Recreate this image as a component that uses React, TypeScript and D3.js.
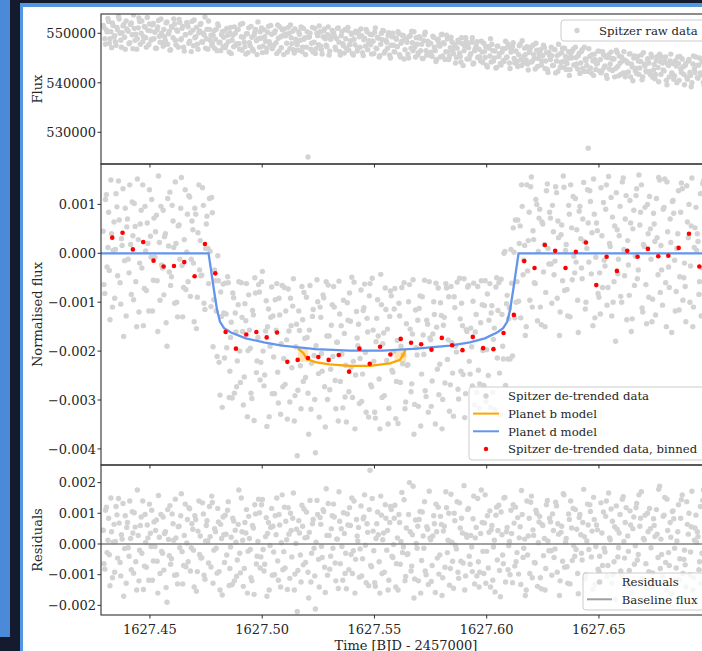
import React from 'react';
import * as d3 from 'd3';

// Times are stored as offsets in units of 1e-4 day after BJD-2457000 = 1627.4
const T0 = 1627.4;
const timeOffsets = [
  292,299,306,313,319,326,333,340, 346,353,360,367,373,380,387,394,
  400,407,414,421,427,434,441,448, 454,461,468,475,481,488,495,502,
  508,515,522,529,535,542,549,556, 562,569,576,583,589,596,603,610,
  616,623,630,637,643,650,657,664, 670,677,684,691,697,704,711,718,
  724,731,738,745,751,758,765,772, 778,785,792,799,805,812,819,826,
  832,839,846,853,859,866,873,880, 886,893,900,907,913,920,927,934,
  940,947,954,961,967,974,981,988, 994,1001,1008,1015,1021,1028,1035,1042,
  1048,1055,1062,1069,1075,1082,1089,1096, 1102,1109,1116,1123,1129,1136,1143,1150,
  1156,1163,1170,1177,1183,1190,1197,1204, 1210,1217,1224,1231,1237,1244,1251,1258,
  1264,1271,1278,1285,1291,1298,1305,1312, 1318,1325,1332,1339,1345,1352,1359,1366,
  1372,1379,1386,1393,1399,1406,1413,1420, 1426,1433,1440,1447,1453,1460,1467,1474,
  1480,1487,1494,1501,1507,1514,1521,1528, 1534,1541,1548,1555,1561,1568,1575,1582,
  1588,1595,1602,1609,1615,1622,1629,1636, 1642,1649,1656,1663,1669,1676,1683,1690,
  1696,1703,1710,1717,1723,1730,1737,1744, 1750,1757,1764,1771,1777,1784,1791,1798,
  1804,1811,1818,1825,1831,1838,1845,1852, 1858,1865,1872,1879,1885,1892,1899,1906,
  1912,1919,1926,1933,1939,1946,1953,1960, 1966,1973,1980,1987,1993,2000,2007,2014,
  2020,2027,2034,2041,2047,2054,2061,2068, 2074,2081,2088,2095,2101,2108,2115,2122,
  2128,2135,2142,2149,2155,2162,2169,2176, 2182,2189,2196,2203,2209,2216,2223,2230,
  2236,2243,2250,2257,2263,2270,2277,2284, 2290,2297,2304,2311,2317,2324,2331,2338,
  2344,2351,2358,2365,2371,2378,2385,2392, 2398,2405,2412,2419,2425,2432,2439,2446,
  2452,2459,2466,2473,2479,2486,2493,2500, 2506,2513,2520,2527,2533,2540,2547,2554,
  2560,2567,2574,2581,2587,2594,2601,2608, 2614,2621,2628,2635,2641,2648,2655,2662,
  2668,2675,2682,2689,2695,2702,2709,2716, 2722,2729,2736,2743,2749,2756,2763,2770,
  2776,2783,2790,2797,2803,2810,2817,2824, 2830,2837,2844,2851,2857,2864,2871,2878,
  2884,2891,2898,2905,2911,2918,2925,2932, 2938,2945,2952,2959,2965,2972,2979,2986
];
// Second (interleaved) half of the cadence
const timeOffsetsB = [
  295,302,309,316,322,329,336,343, 349,356,363,370,376,383,390,397,
  403,410,417,424,430,437,444,451, 457,464,471,478,484,491,498,505,
  511,518,525,532,538,545,552,559, 565,572,579,586,592,599,606,613,
  619,626,633,640,646,653,660,667, 673,680,687,694,700,707,714,721,
  727,734,741,748,754,761,768,775, 781,788,795,802,808,815,822,829,
  835,842,849,856,862,869,876,883, 889,896,903,910,916,923,930,937,
  943,950,957,964,970,977,984,991, 997,1004,1011,1018,1024,1031,1038,1045,
  1051,1058,1065,1072,1078,1085,1092,1099, 1105,1112,1119,1126,1132,1139,1146,1153,
  1159,1166,1173,1180,1186,1193,1200,1207, 1213,1220,1227,1234,1240,1247,1254,1261,
  1267,1274,1281,1288,1294,1301,1308,1315, 1321,1328,1335,1342,1348,1355,1362,1369,
  1375,1382,1389,1396,1402,1409,1416,1423, 1429,1436,1443,1450,1456,1463,1470,1477,
  1483,1490,1497,1504,1510,1517,1524,1531, 1537,1544,1551,1558,1564,1571,1578,1585,
  1591,1598,1605,1612,1618,1625,1632,1639, 1645,1652,1659,1666,1672,1679,1686,1693,
  1699,1706,1713,1720,1726,1733,1740,1747, 1753,1760,1767,1774,1780,1787,1794,1801,
  1807,1814,1821,1828,1834,1841,1848,1855, 1861,1868,1875,1882,1888,1895,1902,1909,
  1915,1922,1929,1936,1942,1949,1956,1963, 1969,1976,1983,1990,1996,2003,2010,2017,
  2023,2030,2037,2044,2050,2057,2064,2071, 2077,2084,2091,2098,2104,2111,2118,2125,
  2131,2138,2145,2152,2158,2165,2172,2179, 2185,2192,2199,2206,2212,2219,2226,2233,
  2239,2246,2253,2260,2266,2273,2280,2287, 2293,2300,2307,2314,2320,2327,2334,2341,
  2347,2354,2361,2368,2374,2381,2388,2395, 2401,2408,2415,2422,2428,2435,2442,2449,
  2455,2462,2469,2476,2482,2489,2496,2503, 2509,2516,2523,2530,2536,2543,2550,2557,
  2563,2570,2577,2584,2590,2597,2604,2611, 2617,2624,2631,2638,2644,2651,2658,2665,
  2671,2678,2685,2692,2698,2705,2712,2719, 2725,2732,2739,2746,2752,2759,2766,2773,
  2779,2786,2793,2800,2806,2813,2820,2827, 2833,2840,2847,2854,2860,2867,2874,2881,
  2887,2894,2901,2908,2914,2921,2928,2935, 2941,2948,2955,2962,2968,2975,2982,2989
];

// Raw Spitzer flux, in units of 100
const rawFluxHundreds = [
  5516,5489,5507,5530,5480,5503,5521,5493, 5483,5512,5534,5500,5472,5515,5492,5525,
  5506,5479,5518,5497,5537,5486,5468,5511, 5524,5500,5483,5514,5491,5532,5477,5505,
  5488,5520,5502,5470,5513,5494,5529,5481, 5508,5485,5523,5499,5466,5514,5491,5519,
  5477,5504,5528,5487,5510,5472,5497,5522, 5513,5484,5463,5506,5527,5493,5478,5501,
  5518,5483,5500,5533,5489,5468,5508,5496, 5479,5505,5488,5465,5515,5482,5497,5473,
  5505,5476,5496,5462,5512,5486,5473,5500, 5479,5508,5468,5493,5520,5482,5458,5499,
  5511,5475,5492,5464,5502,5485,5523,5472, 5490,5461,5507,5484,5470,5514,5478,5498,
  5473,5501,5481,5517,5464,5493,5507,5457, 5498,5480,5512,5469,5491,5504,5460,5488,
  5477,5503,5486,5463,5510,5491,5472,5250, 5493,5468,5512,5482,5459,5500,5477,5503,
  5467,5493,5509,5476,5497,5456,5488,5506, 5501,5472,5489,5511,5463,5495,5479,5460,
  5489,5506,5466,5485,5498,5456,5477,5501, 5470,5493,5509,5461,5487,5474,5503,5480,
  5498,5458,5484,5502,5470,5492,5452,5478, 5487,5505,5464,5482,5496,5456,5476,5500,
  5463,5490,5473,5499,5452,5484,5495,5467, 5487,5458,5494,5470,5481,5503,5452,5478,
  5461,5490,5478,5449,5497,5465,5484,5456, 5480,5453,5492,5465,5447,5488,5474,5497,
  5454,5479,5463,5489,5447,5471,5483,5459, 5474,5451,5486,5460,5442,5479,5465,5491,
  5448,5471,5456,5482,5438,5465,5476,5451, 5468,5444,5462,5480,5451,5435,5473,5454,
  5442,5465,5450,5430,5474,5453,5439,5462, 5445,5469,5451,5478,5440,5462,5474,5449,
  5464,5443,5457,5478,5435,5452,5470,5446, 5438,5461,5472,5444,5457,5428,5466,5449,
  5461,5436,5455,5471,5444,5427,5462,5447, 5455,5435,5467,5444,5423,5458,5441,5470,
  5431,5453,5439,5463,5427,5450,5468,5436, 5451,5428,5460,5440,5467,5423,5448,5435,
  5268,5453,5420,5444,5458,5427,5439,5464, 5447,5424,5457,5434,5415,5451,5428,5462,
  5425,5448,5429,5461,5414,5440,5452,5420, 5446,5420,5440,5458,5412,5432,5450,5424,
  5419,5444,5430,5456,5412,5438,5424,5448, 5440,5417,5452,5426,5408,5445,5431,5458,
  5417,5440,5424,5452,5396,5435,5444,5420, 5439,5414,5434,5452,5405,5428,5448,5417,
  5435,5412,5444,5421,5392,5438,5428,5452, 5411,5436,5420,5445,5401,5428,5440,5416
];
const rawFluxHundredsB = [
  5512,5478,5503,5524,5489,5471,5516,5495, 5476,5507,5529,5486,5501,5518,5468,5509,
  5504,5481,5521,5469,5510,5498,5489,5531, 5478,5525,5493,5512,5472,5506,5519,5486,
  5517,5489,5470,5507,5526,5482,5500,5474, 5493,5521,5478,5504,5467,5512,5529,5486,
  5507,5472,5522,5489,5514,5464,5497,5518, 5480,5501,5524,5475,5491,5512,5468,5505,
  5520,5482,5497,5470,5508,5525,5486,5476, 5496,5470,5508,5519,5481,5465,5503,5492,
  5471,5510,5483,5501,5459,5496,5513,5476, 5507,5479,5518,5466,5492,5473,5499,5461,
  5481,5514,5468,5496,5508,5457,5489,5503, 5511,5474,5493,5462,5502,5483,5516,5469,
  5476,5505,5459,5490,5513,5471,5495,5509, 5495,5462,5500,5517,5479,5467,5509,5483,
  5466,5498,5513,5472,5488,5457,5503,5492, 5500,5480,5462,5510,5469,5495,5515,5474,
  5458,5505,5489,5473,5513,5464,5492,5501, 5495,5467,5510,5482,5456,5503,5475,5508,
  5470,5512,5477,5500,5459,5488,5504,5464, 5504,5472,5495,5455,5490,5508,5467,5485,
  5477,5497,5459,5511,5469,5490,5455,5500, 5506,5460,5486,5470,5501,5450,5493,5476,
  5462,5488,5503,5457,5480,5496,5448,5490, 5482,5450,5495,5504,5465,5472,5491,5456,
  5493,5465,5449,5485,5502,5456,5477,5460, 5462,5494,5472,5443,5487,5479,5452,5498,
  5481,5447,5496,5462,5453,5492,5466,5478, 5440,5470,5482,5453,5491,5435,5474,5484,
  5478,5448,5459,5491,5440,5469,5483,5452, 5452,5484,5441,5463,5473,5432,5470,5489,
  5478,5444,5464,5431,5474,5459,5436,5469, 5443,5484,5452,5472,5429,5467,5481,5440,
  5464,5433,5475,5447,5485,5440,5457,5473, 5426,5466,5442,5476,5449,5480,5433,5458,
  5467,5444,5476,5429,5461,5421,5455,5472, 5435,5468,5420,5455,5478,5431,5461,5443,
  5470,5427,5449,5415,5458,5464,5436,5472, 5438,5455,5419,5463,5429,5472,5445,5423,
  5469,5430,5457,5415,5447,5438,5464,5424, 5420,5463,5431,5452,5409,5457,5438,5449,
  5448,5412,5466,5433,5454,5417,5444,5463, 5412,5443,5422,5459,5438,5404,5454,5429,
  5453,5417,5443,5406,5461,5434,5422,5448, 5423,5458,5411,5437,5417,5453,5402,5443,
  5452,5426,5443,5405,5438,5412,5458,5419, 5407,5444,5400,5439,5453,5421,5432,5396,
  5439,5407,5447,5415,5400,5454,5421,5435, 5409,5450,5416,5443,5395,5431,5447,5401
];

// De-trended normalised flux, in units of 1e-5
const detrendedFlux = [
  45,-82,120,12,-35,150,-110,64, 8,95,148,-60,30,132,-15,-128,
  70,-40,18,105,-95,55,-150,28, -20,88,140,-72,5,62,-118,35,
  110,-55,-8,78,-160,22,96,-30, -85,40,-190,15,125,-48,66,-102,
  20,-130,58,92,-25,-70,130,3, -58,115,-12,48,-140,80,-90,140,
  26,-45,98,-115,60,10,112,-109, 83,-95,-56,-211,-56,-290,-129,-63,
  -214,-124,-48,-295,-172,-296,-91,-122, -273,-105,-200,-60,-160,-253,-138,-334,
  -85,-194,-297,-126,-50,-244,-172,-79, -223,-37,-271,-159,-354,-114,-190,-69,
  -128,-287,-157,-243,-92,-329,-66,-215, -268,-177,-73,-304,-148,-108,-343,-191,
  -414,-118,-230,-68,-262,-174,-90,-286, -157,-319,-129,-209,-408,-54,-246,-110,
  -205,-85,-273,-58,-299,-169,-237,-105, -68,-260,-182,-343,-124,-148,-316,-164,
  -229,-101,-283,-139,-49,-221,-359,-119, -189,-307,-75,-247,-111,-203,-133,-335,
  -62,-273,-157,-325,-181,-95,-257,-43, -295,-163,-71,-219,-349,-129,-87,-243,
  -114,-338,-178,-102,-264,-70,-208,-318, -144,-228,-64,-283,-165,-370,-116,-208,
  -313,-87,-247,-167,-55,-293,-145,-58, -177,-261,-99,-349,-151,-71,-227,-127,
  -299,-131,-62,-217,-89,-269,-183,-333, -111,-202,-278,-51,-241,-148,-52,-287,
  -160,-66,-247,-191,-98,-310,-125,-68, -317,-142,-105,-270,-56,-197,-250,-62,
  -122,-284,-153,-69,-214,-60,-330,-125, -216,4,-103,-216,-112,8,-210,2,
  68,-58,-98,56,140,-44,16,-150, -36,84,136,-110,28,-62,100,4,
  90,-146,60,18,-80,142,-22,72, -102,44,-16,124,66,-168,38,-56,
  135,6,-74,98,-130,52,116,-40, -18,-96,86,30,-52,145,-114,10,
  62,128,-42,-148,80,-8,46,-90, -124,36,104,-26,140,-70,20,114,
  74,-58,-180,48,-12,96,-100,154, -46,118,26,-86,62,-134,88,-6,
  132,-34,58,140,-120,14,-64,100, -90,50,-140,82,24,112,-44,150,
  16,-106,94,-60,146,-28,70,-162, 108,-14,-78,40,-116,84,132,-50,
  -68,138,32,-100,56,-150,12,94, 40,-84,122,-30,148,-56,-8,66
];
const detrendedFluxB = [
  -64,110,-28,84,-136,40,6,-92, 122,-46,68,-104,16,-170,92,54,
  -12,140,-84,36,102,-58,152,-120, 60,-30,-148,96,-76,20,130,-8,
  -118,72,44,-56,158,-96,-24,88, 34,-142,112,-38,-66,98,12,146,
  -100,56,-12,155,-130,28,-74,80, 118,-88,66,-20,92,-154,42,-34,
  -46,134,-102,10,76,-62,4,114, -191,-34,-118,-5,-223,-79,-315,-122,
  -61,-193,-60,-241,-141,-81,-286,-161, -220,-58,-264,-131,-310,-103,-62,-199,
  -157,-286,-117,-342,-81,-220,-64,-259, -58,-200,-249,-97,-150,-334,-131,-287,
  -212,-95,-62,-306,-126,-185,-273,-70, -118,-339,-159,-92,-234,-52,-291,-145,
  -280,-158,-318,-136,-80,-254,-172,-370, -66,-225,-115,-299,-189,-99,-335,-131,
  -241,-91,-355,-169,-65,-279,-147,-211, -110,-318,-182,-57,-262,-206,-96,-294,
  -345,-137,-81,-233,-295,-59,-249,-173, -145,-215,-303,-117,-63,-325,-161,-87,
  -269,-51,-221,-337,-133,-169,-359,-105, -185,-291,-115,-155,-317,-77,-239,-201,
  -72,-262,-348,-128,-190,-226,-60,-304, -229,-99,-155,-267,-54,-309,-193,-137,
  -113,-353,-89,-207,-281,-137,-325,-173, -313,-165,-125,-61,-237,-289,-101,-359,
  -147,-265,-71,-177,-323,-68,-245,-89, -190,-59,-298,-134,-102,-248,-336,-156,
  -69,-221,-153,-271,-61,-161,-285,-239, -267,-56,-199,-107,-303,-83,-137,-315,
  -107,-176,-320,-50,-117,-245,-53,-190, 0,-270,-86,-134,-216,-61,52,-132,
  -100,68,20,-132,96,-14,-168,140, 26,-96,156,46,-60,110,-138,72,
  -110,64,-38,-150,128,10,84,-22, 98,-44,136,-92,32,-120,58,158,
  -76,18,-128,80,140,-54,-6,112, 48,-162,96,-30,70,24,-100,130,
  -18,106,42,152,-132,62,-82,-40, 134,-70,-14,90,-106,157,14,-128,
  -100,56,124,-42,36,-88,146,8, 70,-136,-24,108,-160,50,-66,118,
  -52,160,84,-112,18,94,-144,40, 116,-12,-94,60,-126,32,155,-80,
  -34,90,152,-150,44,-70,22,106, 82,-118,10,128,-48,144,-96,-20,
  -140,64,100,-26,154,-110,52,6, 24,-58,-128,142,-84,110,30,-150
];

// Residuals, in units of 1e-5
const residualFlux = [
  45,-82,120,12,-35,150,-110,64, 8,95,148,-60,30,132,-15,-128,
  70,-40,18,105,-95,55,-150,28, -20,88,140,-72,5,62,-118,35,
  110,-55,-8,78,-160,22,96,-30, -85,40,-190,15,125,-48,66,-102,
  20,-130,58,92,-25,-70,130,3, -58,115,-12,48,-140,80,-90,140,
  26,-45,98,-115,60,10,122,-75, 135,-20,40,-95,72,-150,18,88,
  -60,32,110,-135,-10,-132,75,45, -105,64,-30,150,12,-80,36,-160,
  90,-18,-120,52,128,-65,8,102, -42,145,-88,24,-170,70,-5,116,
  58,-100,30,-55,96,-140,160,-25, -78,14,118,-112,44,84,-150,2,
  -220,76,-36,126,-68,20,104,-92, 38,-124,66,-14,-212,142,-50,86,
  -8,112,-76,180,-102,28,-40,92, 130,-62,16,-145,74,50,-118,34,
  -30,98,-84,60,150,-22,-160,80, 10,-108,124,-48,88,-4,66,-136,
  240,-74,42,-126,18,104,-58,156, -96,36,128,-20,-150,70,112,-44,
  84,-140,20,96,-66,168,-10,-120, 52,-32,200,-88,30,-176,78,-14,
  -120,106,-54,26,138,-100,48,172, 14,-70,92,-158,40,120,-36,64,
  -110,58,170,-28,100,-80,6,-144, 76,-16,-92,134,-56,36,190,-104,
  22,116,-66,-10,82,-130,54,148, -140,34,70,-96,160,-24,-78,108,
  46,-118,12,94,-52,126,-172,30, -64,152,40,-84,8,110,-126,68,
  120,-28,-98,56,174,-44,16,-150, -36,84,136,-110,28,-62,100,4,
  90,-146,60,18,-80,142,-22,72, -102,44,-16,124,66,-168,38,-56,
  160,6,-74,98,-130,52,116,-40, -18,-96,86,30,-52,178,-114,10,
  62,128,-42,-148,80,-8,46,-90, -124,36,104,-26,140,-70,20,114,
  74,-58,-180,48,-12,96,-100,154, -46,118,26,-86,62,-134,88,-6,
  132,-34,58,170,-120,14,-64,100, -90,50,-140,82,24,112,-44,188,
  16,-106,94,-60,146,-28,70,-162, 108,-14,-78,40,-116,84,160,-50,
  -68,138,32,-100,56,-150,12,94, 40,-84,122,-30,176,-56,-8,66
];
const residualFluxB = [
  -64,110,-28,84,-136,40,6,-92, 122,-46,68,-104,16,-170,92,54,
  -12,140,-84,36,102,-58,176,-120, 60,-30,-148,96,-76,20,130,-8,
  -118,72,44,-56,158,-96,-24,88, 34,-142,112,-38,-66,98,12,146,
  -100,56,-12,164,-130,28,-74,80, 118,-88,66,-20,92,-154,42,-34,
  -46,134,-102,10,76,-62,24,156, -128,50,-14,116,-90,64,-166,30,
  94,-36,138,-80,22,84,-120,6, -52,176,-94,40,-138,70,112,-24,
  18,-110,60,-164,98,-40,146,-78, 128,-18,-66,86,34,-150,54,-102,
  -26,92,150,-118,62,4,-84,120, 74,-148,32,100,-42,166,-98,48,
  -86,36,-124,58,114,-60,22,-176, 142,-30,80,-104,6,96,-140,64,
  -44,106,-158,28,132,-82,50,-14, 88,-120,16,170,-64,-8,102,-96,
  -146,62,118,-34,-96,140,-50,26, 54,-16,-104,82,160,-126,38,112,
  -70,148,-22,-138,66,30,-160,94, 14,-92,84,44,-118,122,-40,-2,
  126,-64,-150,70,8,-28,144,-106, -34,96,40,-72,188,-114,2,58,
  80,-160,104,-14,-88,56,-132,20, -122,26,66,130,-46,-98,90,-168,
  42,-76,118,12,-134,162,-56,100, -4,138,-112,52,84,-62,-150,30,
  112,-40,28,-90,156,20,-104,-58, -92,176,-24,68,-128,92,38,-140,
  60,-10,-156,120,44,-86,104,-36, 150,-124,54,-6,-100,34,128,-72,
  -58,86,20,-132,96,-14,-168,140, 26,-96,156,46,-60,110,-138,72,
  -110,64,-38,-150,128,10,84,-22, 98,-44,136,-92,32,-120,58,164,
  -76,18,-128,80,140,-54,-6,112, 48,-162,96,-30,70,24,-100,130,
  -18,106,42,152,-132,62,-82,-40, 134,-70,-14,90,-106,166,14,-128,
  -100,56,124,-42,36,-88,146,8, 70,-136,-24,108,-160,50,-66,118,
  -52,160,84,-112,18,94,-144,40, 116,-12,-94,60,-126,32,178,-80,
  -34,90,152,-150,44,-70,22,106, 82,-118,10,128,-48,144,-96,-20,
  -140,64,100,-26,172,-110,52,6, 24,-58,-128,142,-84,110,30,-150
];

// Binned de-trended data (red), times as offsets (1e-4 d), flux in 1e-5
const binnedTimeOffsets = [
  332,378,424,470,516,561,607,653,699,745,791,837,883,929,974,1020,1066,1112,1158,1204,
  1250,1296,1341,1387,1433,1479,1525,1571,1617,1663,1708,1754,1800,1846,1892,1938,1984,2030,
  2075,2121,2167,2213,2259,2305,2351,2397,2442,2488,2534,2580,2626,2672,2718,2764,2809,2855,2901,2947
];
const binnedFlux = [
  32,42,8,23,-15,-27,-26,-18,-47,19,-41,-161,-195,-166,-161,-172,-162,-222,-218,-214,
  -212,-218,-208,-242,-195,-226,-191,-207,-175,-183,-186,-197,-173,-188,-198,-171,-194,-196,
  -163,-126,-16,-30,17,5,-30,3,22,-65,-7,-36,5,-7,9,-6,-5,11,40,-27
];

// Planet d transit model (blue)
const planetDTimeOffsets = [282,761,772,785,799,812,830,861,927,1008,1088,1238,1391,1538,1688,1836,1925,1992,2046,2073,2091,2104,2118,2131,2142,3000];
const planetDFlux = [0,0,-34,-75,-116,-140,-153,-162,-174,-182,-189,-196,-199,-199,-195,-189,-182,-174,-162,-153,-140,-116,-75,-34,0,0];

// Planet b transit model (orange)
const planetBTimeOffsets = [1159,1168,1183,1200,1242,1300,1391,1480,1569,1614,1632,1638];
const planetBFlux = [-195,-198,-204,-217,-223,-227,-230,-230,-225,-218,-204,-196];
// Planet b ingress / egress uncertainty bands
const planetBBandStart = [1160, 1590];
const planetBBandEnd = [1205, 1642];
const planetBBandHigh = [-193, -197];
const planetBBandLow = [-222, -222];

const xTicks = [1627.45, 1627.5, 1627.55, 1627.6, 1627.65];
const rawTicks = [530000, 540000, 550000];
const normTicks = [0.001, 0, -0.001, -0.002, -0.003, -0.004];
const residTicks = [0.002, 0.001, 0, -0.001, -0.002];

const FONT = "'DejaVu Serif', serif";
const TEXT = '#262626';
const SPINE = '#303030';
const GRAY = '#d3d3d3';

export default function App() {
  const W = 702, H = 651;
  const L = 101, R = 711;
  const top = { y0: 14, y1: 164 }, mid = { y0: 164, y1: 465 }, bot = { y0: 465, y1: 615 };
  const tt = (v: number) => T0 + v * 1e-4;
  const x = d3.scaleLinear().domain([1627.4282, 1627.6999]).range([L, R]);
  const yRaw = d3.scaleLinear().domain([523596, 553899]).range([top.y1, top.y0]);
  const yMid = d3.scaleLinear().domain([-0.004329, 0.001826]).range([mid.y1, mid.y0]);
  const yBot = d3.scaleLinear().domain([-0.002313, 0.002573]).range([bot.y1, bot.y0]);
  const fmt3 = d3.format('.3f');
  const fmtX = d3.format('.2f');

  const times = timeOffsets.concat(timeOffsetsB);
  const raw = rawFluxHundreds.concat(rawFluxHundredsB);
  const detr = detrendedFlux.concat(detrendedFluxB);
  const resid = residualFlux.concat(residualFluxB);

  const lineD = d3.line<number>()
    .x((v) => x(tt(v)))
    .y((_, i) => yMid(planetDFlux[i] * 1e-5));
  const lineB = d3.line<number>()
    .x((v) => x(tt(v)))
    .y((_, i) => yMid(planetBFlux[i] * 1e-5));

  const yAxis = (ticks: number[], y: (v: number) => number, f: (v: number) => string) =>
    ticks.map((v) => (
      <g key={v}>
        <line x1={L - 3.5} x2={L} y1={y(v)} y2={y(v)} stroke={SPINE} strokeWidth={1} />
        <text x={L - 5} y={y(v) + 4.7} textAnchor="end" fontSize={13} fill={TEXT}>{f(v)}</text>
      </g>
    ));
  const xTickMarks = (yb: number) =>
    xTicks.map((v) => (
      <line key={v} x1={x(v)} x2={x(v)} y1={yb} y2={yb + 3.5} stroke={SPINE} strokeWidth={1} />
    ));

  return (
    <svg width={W} height={H} style={{ position: 'absolute', left: 0, top: 0, display: 'block' }} fontFamily={FONT}>
      <defs>
        <clipPath id="cTop"><rect x={L} y={top.y0} width={R - L} height={top.y1 - top.y0} /></clipPath>
        <clipPath id="cMid"><rect x={L} y={mid.y0} width={R - L} height={mid.y1 - mid.y0} /></clipPath>
        <clipPath id="cBot"><rect x={L} y={bot.y0} width={R - L} height={bot.y1 - bot.y0} /></clipPath>
      </defs>
      {/* page frame */}
      <rect x={0} y={0} width={W} height={H} fill="#141b2e" />
      <rect x={0} y={0} width={10} height={637} fill="#4a8ad8" />
      <rect x={20} y={3} width={W - 20} height={H - 3} fill="#5596e2" />
      <rect x={23} y={7} width={W - 23} height={H - 7} fill="#ffffff" />

      {/* top panel: raw */}
      <g clipPath="url(#cTop)">
        {times.map((v, i) => (
          <circle key={i} cx={x(tt(v))} cy={yRaw(raw[i] * 100)} r={2.7} fill={GRAY} />
        ))}
      </g>

      {/* middle panel: detrended */}
      <g clipPath="url(#cMid)">
        {times.map((v, i) => (
          <circle key={i} cx={x(tt(v))} cy={yMid(detr[i] * 1e-5)} r={2.7} fill={GRAY} />
        ))}
        {planetBBandStart.map((s, i) => (
          <rect key={i} x={x(tt(s))} y={yMid(planetBBandHigh[i] * 1e-5)}
            width={x(tt(planetBBandEnd[i])) - x(tt(s))}
            height={yMid(planetBBandLow[i] * 1e-5) - yMid(planetBBandHigh[i] * 1e-5)}
            fill="#ffa500" opacity={0.3} />
        ))}
        <path d={lineB(planetBTimeOffsets) || ''} fill="none" stroke="#ffa500" strokeWidth={2.2} />
        <path d={lineD(planetDTimeOffsets) || ''} fill="none" stroke="#6495ed" strokeWidth={2.3} />
        {binnedTimeOffsets.map((v, i) => (
          <circle key={i} cx={x(tt(v))} cy={yMid(binnedFlux[i] * 1e-5)} r={2.3} fill="#ff0000" />
        ))}
      </g>

      {/* bottom panel: residuals */}
      <g clipPath="url(#cBot)">
        {times.map((v, i) => (
          <circle key={i} cx={x(tt(v))} cy={yBot(resid[i] * 1e-5)} r={2.7} fill={GRAY} />
        ))}
        <line x1={L} x2={R} y1={yBot(0)} y2={yBot(0)} stroke="#808080" strokeOpacity={0.75} strokeWidth={2} />
      </g>

      {/* spines */}
      {[top, mid, bot].map((p, i) => (
        <rect key={i} x={L} y={p.y0} width={R - L} height={p.y1 - p.y0} fill="none" stroke={SPINE} strokeWidth={1.1} />
      ))}
      {xTickMarks(top.y1)}
      {xTickMarks(mid.y1)}
      {xTickMarks(bot.y1)}
      {yAxis(rawTicks, yRaw, (v) => String(v))}
      {yAxis(normTicks, yMid, fmt3)}
      {yAxis(residTicks, yBot, fmt3)}
      {xTicks.map((v) => (
        <text key={v} x={x(v)} y={634} textAnchor="middle" fontSize={13} fill={TEXT}>{fmtX(v)}</text>
      ))}
      <text x={(L + R) / 2} y={649.5} textAnchor="middle" fontSize={13} fill={TEXT}>Time [BJD - 2457000]</text>
      <text transform={`translate(41.5,${(top.y0 + top.y1) / 2}) rotate(-90)`} textAnchor="middle" fontSize={13} fill={TEXT}>Flux</text>
      <text transform={`translate(42,${(mid.y0 + mid.y1) / 2}) rotate(-90)`} textAnchor="middle" fontSize={13} fill={TEXT}>Normalised flux</text>
      <text transform={`translate(42,${(bot.y0 + bot.y1) / 2}) rotate(-90)`} textAnchor="middle" fontSize={13} fill={TEXT}>Residuals</text>

      {/* legends */}
      <g fontSize={11.7} fill={TEXT}>
        <rect x={561} y={20} width={150} height={21} rx={3} fill="#ffffff" fillOpacity={0.8} stroke="#cccccc" />
        <circle cx={577} cy={30.5} r={2.7} fill={GRAY} />
        <text x={599} y={34.7}>Spitzer raw data</text>

        <rect x={469} y={387} width={240} height={73} rx={3} fill="#ffffff" fillOpacity={0.8} stroke="#cccccc" />
        <circle cx={486} cy={396} r={2.7} fill={GRAY} />
        <text x={508} y={400.2}>Spitzer de-trended data</text>
        <line x1={473} x2={499} y1={413.6} y2={413.6} stroke="#ffa500" strokeWidth={2} />
        <text x={508} y={417.8}>Planet b model</text>
        <line x1={473} x2={499} y1={431.3} y2={431.3} stroke="#6495ed" strokeWidth={2} />
        <text x={508} y={435.5}>Planet d model</text>
        <circle cx={486} cy={449} r={2.2} fill="#ff0000" />
        <text x={508} y={453.2}>Spitzer de-trended data, binned</text>

        <rect x={583} y={573} width={125} height={37} rx={3} fill="#ffffff" fillOpacity={0.8} stroke="#cccccc" />
        <circle cx={599.5} cy={582} r={2.7} fill={GRAY} />
        <text x={621.7} y={586.2}>Residuals</text>
        <line x1={587} x2={612} y1={599.3} y2={599.3} stroke="#808080" strokeOpacity={0.75} strokeWidth={2} />
        <text x={621.7} y={603.5}>Baseline flux</text>
      </g>
    </svg>
  );
}
